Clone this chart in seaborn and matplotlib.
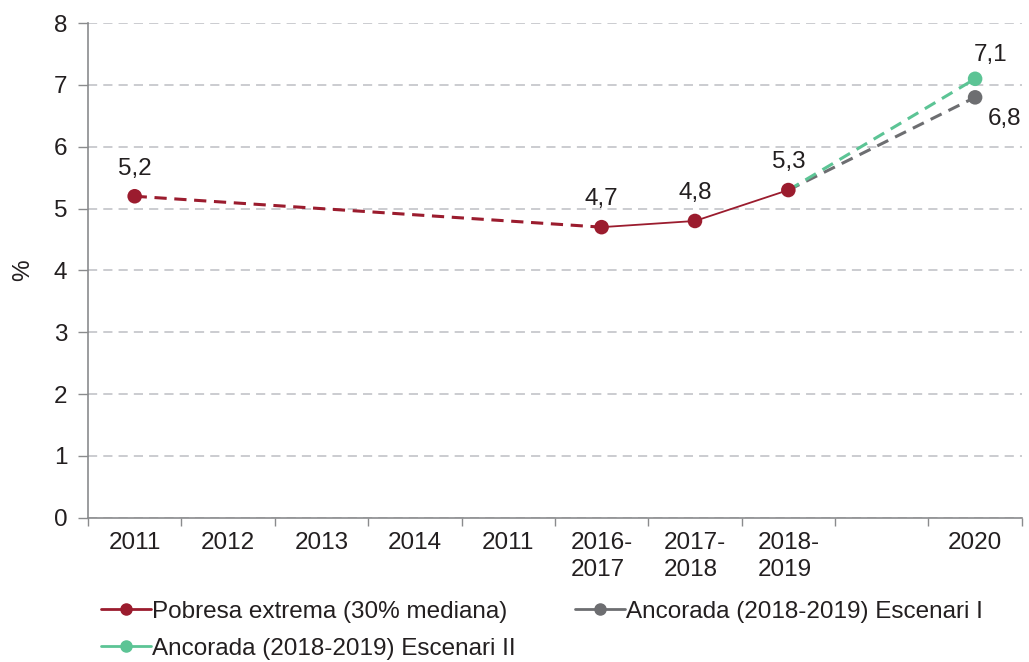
import numpy as np
import pandas as pd
import matplotlib.pyplot as plt
import seaborn as sns
from matplotlib.lines import Line2D

# Dades
categories = ['2011', '2012', '2013', '2014', '2011', '2016-\n2017', '2017-\n2018', '2018-\n2019', '', '2020']
pobresa = [5.2, np.nan, np.nan, np.nan, np.nan, 4.7, 4.8, 5.3, np.nan, np.nan]
escenari_1 = [np.nan] * 7 + [5.3, np.nan, 6.8]
escenari_2 = [np.nan] * 7 + [5.3, np.nan, 7.1]

c_pob = '#9B1C2E'
c_e1 = '#6D6E71'
c_e2 = '#5CC495'
c_txt = '#231F20'

sns.set_style('white')
plt.rcParams['font.family'] = ['Liberation Sans', 'DejaVu Sans']

df = pd.DataFrame({
    'pos': np.arange(len(categories)),
    'pobresa': pobresa,
    'esc1': escenari_1,
    'esc2': escenari_2,
})

fig, ax = plt.subplots(figsize=(10.29, 6.62), dpi=100)
fig.subplots_adjust(left=0.0855, right=0.993, top=0.965, bottom=0.218)

# tram discontinu 2011 -> 2016-2017
tram1 = df.loc[[0, 5]]
sns.lineplot(data=tram1, x='pos', y='pobresa', ax=ax, color=c_pob, lw=2.2,
             linestyle=(0, (4, 2.5)), legend=False)
tram2 = df.loc[[5, 6, 7]]
sns.lineplot(data=tram2, x='pos', y='pobresa', ax=ax, color=c_pob, lw=1.3, legend=False)

e1 = df.dropna(subset=['esc1'])
e2 = df.dropna(subset=['esc2'])
sns.lineplot(data=e1, x='pos', y='esc1', ax=ax, color=c_e1, lw=2.2,
             linestyle=(0, (4, 2.5)), legend=False)
sns.lineplot(data=e2, x='pos', y='esc2', ax=ax, color=c_e2, lw=2.2,
             linestyle=(0, (4, 2.5)), legend=False)

pts = df.dropna(subset=['pobresa'])
sns.scatterplot(data=pts, x='pos', y='pobresa', ax=ax, color=c_pob, s=110,
                edgecolor='none', zorder=5, legend=False)
sns.scatterplot(data=e1.iloc[1:], x='pos', y='esc1', ax=ax, color=c_e1, s=110,
                edgecolor='none', zorder=5, legend=False)
sns.scatterplot(data=e2.iloc[1:], x='pos', y='esc2', ax=ax, color=c_e2, s=110,
                edgecolor='none', zorder=6, legend=False)

# etiquetes de valor
fs = 17.5
for p, v in zip(pts['pos'], pts['pobresa']):
    ax.annotate(f'{v:.1f}'.replace('.', ','), (p, v), xytext=(0, 12),
                textcoords='offset points', ha='center', va='bottom', fontsize=fs, color=c_txt)
for p, v in zip(e2['pos'].iloc[1:], e2['esc2'].iloc[1:]):
    ax.annotate(f'{v:.1f}'.replace('.', ','), (p, v), xytext=(11, 9),
                textcoords='offset points', ha='center', va='bottom', fontsize=fs, color=c_txt)
for p, v in zip(e1['pos'].iloc[1:], e1['esc1'].iloc[1:]):
    ax.annotate(f'{v:.1f}'.replace('.', ','), (p, v), xytext=(21, -8),
                textcoords='offset points', ha='center', va='top', fontsize=fs, color=c_txt)

ax.set_xlim(-0.5, len(categories) - 0.5)
ax.set_ylim(0, 8)
ax.set_yticks(range(0, 9))
ax.set_xticks(np.arange(len(categories)))
ax.set_xticklabels(categories, fontsize=fs, color=c_txt, va='top', linespacing=1.3,
                   multialignment='left')
ax.set_xticks(np.arange(len(categories) + 1) - 0.5, minor=True)
ax.tick_params(axis='x', which='major', bottom=True, length=0, pad=10)
ax.tick_params(axis='x', which='minor', bottom=True, length=6, width=1, color='#8A8B8D', direction='out')
ax.tick_params(axis='y', left=True, length=7, width=1, color='#8A8B8D', labelsize=fs,
               labelcolor=c_txt, pad=8)
ax.set_xlabel('')
ax.set_ylabel('%', fontsize=fs, color=c_txt, labelpad=14)

ax.yaxis.grid(True, color='#BDBFC3', linestyle=(0, (6, 4)), lw=1.1)
ax.set_axisbelow(True)
for s in ['top', 'right']:
    ax.spines[s].set_visible(False)
for s in ['left', 'bottom']:
    ax.spines[s].set_color('#8A8B8D')
    ax.spines[s].set_linewidth(1.2)

handles = [
    Line2D([], [], color=c_pob, lw=2, marker='o', markersize=8),
    Line2D([], [], color=c_e2, lw=2, marker='o', markersize=8),
    Line2D([], [], color=c_e1, lw=2, marker='o', markersize=8),
]
labels = ['Pobresa extrema (30% mediana)', 'Ancorada (2018-2019) Escenari II',
          'Ancorada (2018-2019) Escenari I']
leg = fig.legend(handles, labels, loc='upper left', bbox_to_anchor=(0.089, 0.107),
                 ncol=2, frameon=False, fontsize=fs, handlelength=2.05, handletextpad=0.05,
                 columnspacing=2.43, labelspacing=0.62, borderaxespad=0)
for t in leg.get_texts():
    t.set_color(c_txt)

fig.savefig('out.png', dpi=100)
